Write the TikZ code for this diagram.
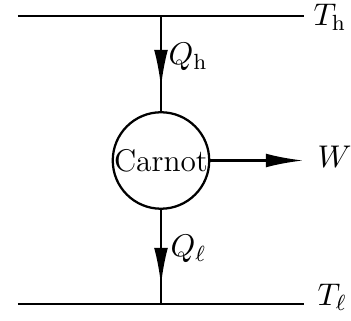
\RequirePackage{fix-cm}
\documentclass[tikz,border=0pt]{standalone}
\usetikzlibrary{arrows.meta}
\begin{document}
\begin{tikzpicture}[x=0.3763pt,y=-0.3763pt,
  every node/.style={font=\fontsize{11.8}{14}\selectfont},
  wire/.style={line width=0.85pt},
  flow/.style={line width=0.85pt,-{Latex[length=14pt,width=5.2pt]}},
  lbl/.style={anchor=base west,inner sep=0pt}]
\useasboundingbox (0,0) rectangle (351,321);
\coordinate (tl) at (18,16);
\coordinate (tr) at (304,16);
\coordinate (bl) at (18,304);
\coordinate (br) at (304,304);
\coordinate (top) at (161,16);
\coordinate (bot) at (161,304);
\coordinate (qh) at (161,87);
\coordinate (ql) at (161,285);
\coordinate (w) at (303,160.5);
\node[circle,draw,line width=0.85pt,minimum size=36.3pt,inner sep=0pt] (c) at (161,160.5) {Carnot};
\draw[wire] (tl) -- (tr);
\draw[wire] (bl) -- (br);
\draw[wire] (top) -- (c.north);
\draw[wire] (c.south) -- (bot);
\draw[flow] (top) -- (qh);
\draw[flow] (c.south) -- (ql);
\draw[flow] (c.east) -- (w);
\node[lbl] (th) at (313,26) {$T_{\mathrm{h}}$};
\node[lbl] (tlo) at (317,306) {$T_\ell$};
\node[lbl] (wl) at (317,168) {$W$};
\node[lbl] (qhl) at (168,65) {$Q_{\mathrm{h}}$};
\node[lbl] (qll) at (170,257) {$Q_\ell$};
\end{tikzpicture}
\end{document}
